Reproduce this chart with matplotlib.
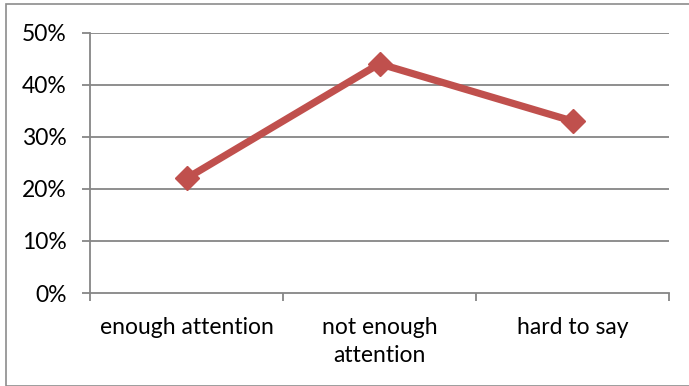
import matplotlib
matplotlib.use("Agg")
import matplotlib.pyplot as plt
from matplotlib.patches import Rectangle
from matplotlib.ticker import FixedLocator, PercentFormatter

categories = ["enough attention", "not enough\nattention", "hard to say"]
shares = [0.22, 0.44, 0.33]
y_ticks = [0.0, 0.1, 0.2, 0.3, 0.4, 0.5]

W, H, DPI = 689, 386, 100
plt.rcParams["font.family"] = ["Lato", "DejaVu Sans"]

fig = plt.figure(figsize=(W / DPI, H / DPI), dpi=DPI)
fig.patch.set_facecolor("white")

# outer chart frame
fig.patches.append(Rectangle((6 / W, 1 - 385.5 / H), 700 / W, (385.5 - 4) / H,
                             transform=fig.transFigure, fill=False,
                             edgecolor="#8c8c8c", linewidth=1.2))

ax = fig.add_axes([90 / W, 1 - 293 / H, (669 - 90) / W, (293 - 32.5) / H])
ax.set_facecolor("white")

grid_color = "#868686"
ax.set_ylim(0, 0.5)
ax.set_xlim(-0.5, len(categories) - 0.5)
ax.set_yticks(y_ticks)
ax.yaxis.set_major_formatter(PercentFormatter(1.0, decimals=0))
for y in y_ticks[1:]:
    ax.axhline(y, color=grid_color, linewidth=1.3, zorder=1)

for side in ("top", "right"):
    ax.spines[side].set_visible(False)
for side in ("left", "bottom"):
    ax.spines[side].set_color(grid_color)
    ax.spines[side].set_linewidth(1.3)

ax.tick_params(axis="y", length=5.8, width=1.3, color=grid_color,
               labelsize=16.5, pad=11, labelcolor="black")
ax.set_xticks(range(len(categories)))
ax.set_xticklabels(categories, fontsize=16.5, linespacing=1.4)
ax.tick_params(axis="x", which="major", length=0, pad=17.5)
ax.xaxis.set_minor_locator(FixedLocator([i - 0.5 for i in range(len(categories) + 1)]))
ax.tick_params(axis="x", which="minor", length=6, width=1.3, color=grid_color)

ax.plot(range(len(categories)), shares, color="#C0504D", linewidth=5.2,
        marker="D", markersize=12.5, solid_joinstyle="miter", zorder=3,
        clip_on=False)

fig.savefig("out.png", dpi=DPI, facecolor="white")
